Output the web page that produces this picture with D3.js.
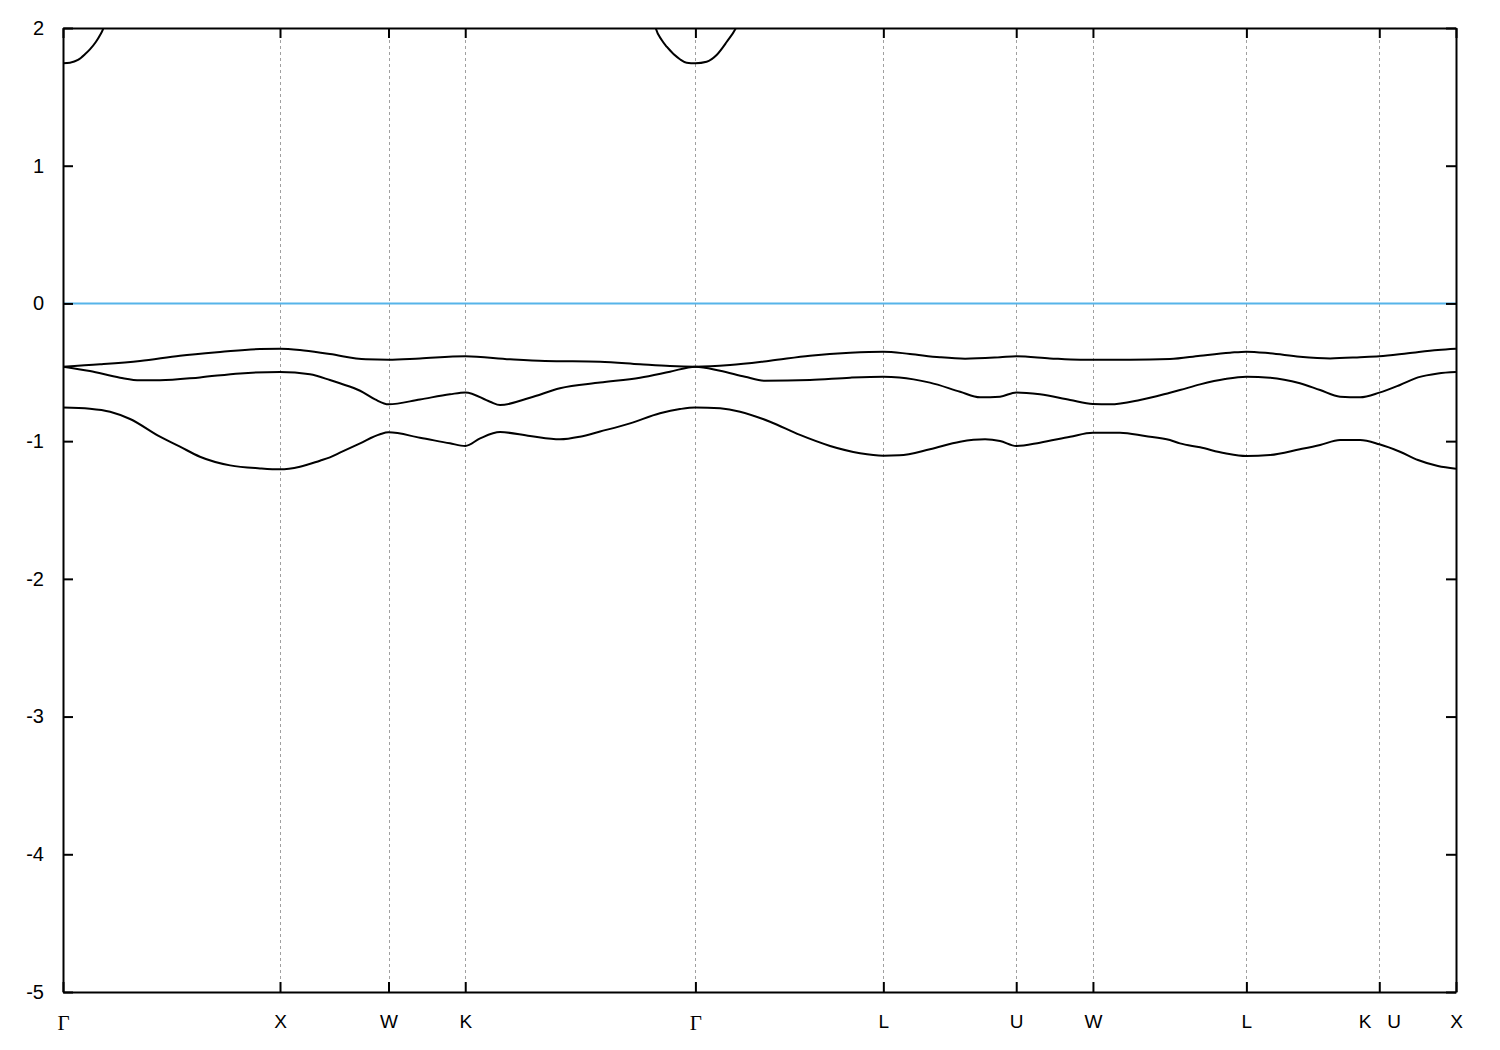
<!DOCTYPE html>
<html>
<head>
<meta charset="utf-8">
<script src="https://cdn.jsdelivr.net/npm/d3@7"></script>
<style>
  body { margin: 0; background: #fff; }
  svg { display: block; }
</style>
</head>
<body>
<svg id="chart" width="1500" height="1050"></svg>
<script>
// High-symmetry points along the k-path (FCC), cumulative distance in 2π/a
const kTicks = [0, 1.0, 1.5, 1.85355, 2.91421, 3.78024, 4.39261, 4.74616, 5.45327, 6.06564, 6.41919];
const kLabels = ["Γ", "X", "W", "K", "Γ", "L", "U", "W", "L", "K   U", "X"];
const yTicks = [-5, -4, -3, -2, -1, 0, 1, 2];
const fermiLevel = 0;

// Valence bands [k, E]
const band1 = [[0,-0.755],[0.124,-0.764],[0.217,-0.786],[0.309,-0.839],[0.447,-0.968],[0.539,-1.040],[0.631,-1.113],[0.770,-1.176],[0.908,-1.198],[1.0,-1.205],[1.092,-1.186],[1.184,-1.142],[1.230,-1.118],[1.276,-1.084],[1.369,-1.016],[1.461,-0.950],[1.5,-0.936],[1.645,-0.975],[1.783,-1.016],[1.854,-1.035],[1.922,-0.980],[2.014,-0.934],[2.152,-0.963],[2.290,-0.987],[2.382,-0.968],[2.475,-0.930],[2.613,-0.871],[2.751,-0.798],[2.843,-0.767],[2.914,-0.755],[3.028,-0.762],[3.120,-0.786],[3.258,-0.859],[3.396,-0.955],[3.535,-1.035],[3.673,-1.088],[3.780,-1.106],[3.854,-1.103],[3.995,-1.059],[4.134,-1.004],[4.249,-0.987],[4.318,-0.999],[4.393,-1.035],[4.502,-1.011],[4.641,-0.968],[4.746,-0.939],[4.871,-0.939],[4.986,-0.963],[5.101,-0.992],[5.147,-1.016],[5.240,-1.045],[5.355,-1.088],[5.453,-1.108],[5.562,-1.101],[5.700,-1.059],[5.793,-1.028],[5.885,-0.992],[5.977,-0.992],[6.066,-1.023],[6.161,-1.077],[6.244,-1.137],[6.336,-1.181],[6.419,-1.200]];
const band2 = [[0,-0.459],[0.124,-0.491],[0.263,-0.539],[0.355,-0.558],[0.447,-0.558],[0.631,-0.537],[0.816,-0.508],[1.0,-0.498],[1.138,-0.515],[1.230,-0.556],[1.276,-0.580],[1.369,-0.634],[1.438,-0.697],[1.5,-0.733],[1.645,-0.697],[1.783,-0.660],[1.854,-0.646],[1.968,-0.714],[2.014,-0.738],[2.152,-0.685],[2.290,-0.616],[2.475,-0.575],[2.659,-0.539],[2.797,-0.496],[2.914,-0.459],[3.028,-0.489],[3.143,-0.532],[3.235,-0.561],[3.442,-0.556],[3.627,-0.539],[3.780,-0.532],[3.854,-0.537],[3.995,-0.575],[4.134,-0.641],[4.226,-0.682],[4.318,-0.677],[4.393,-0.646],[4.502,-0.660],[4.641,-0.701],[4.746,-0.730],[4.825,-0.733],[4.963,-0.701],[5.101,-0.648],[5.147,-0.629],[5.240,-0.588],[5.355,-0.549],[5.453,-0.532],[5.562,-0.539],[5.700,-0.580],[5.793,-0.629],[5.885,-0.677],[5.977,-0.682],[6.066,-0.648],[6.161,-0.592],[6.244,-0.537],[6.336,-0.508],[6.419,-0.498]];
const band3 = [[0,-0.459],[0.171,-0.442],[0.355,-0.418],[0.539,-0.380],[0.724,-0.353],[0.908,-0.331],[1.0,-0.329],[1.092,-0.338],[1.230,-0.368],[1.396,-0.406],[1.5,-0.409],[1.645,-0.399],[1.854,-0.384],[2.060,-0.406],[2.221,-0.418],[2.475,-0.423],[2.659,-0.442],[2.797,-0.455],[2.914,-0.459],[3.074,-0.447],[3.258,-0.416],[3.442,-0.380],[3.627,-0.358],[3.780,-0.350],[3.903,-0.367],[4.041,-0.391],[4.157,-0.401],[4.318,-0.391],[4.393,-0.384],[4.548,-0.399],[4.687,-0.409],[4.917,-0.409],[5.101,-0.404],[5.240,-0.380],[5.378,-0.358],[5.453,-0.350],[5.562,-0.362],[5.700,-0.387],[5.839,-0.399],[5.977,-0.391],[6.066,-0.384],[6.198,-0.362],[6.336,-0.338],[6.419,-0.329]];
// Conduction band pieces (visible only near Γ)
const cband1 = [[0,1.744],[0.032,1.748],[0.069,1.768],[0.101,1.809],[0.124,1.845],[0.152,1.90],[0.171,1.949],[0.184,1.99],[0.195,2.05]];
const cband2 = [[2.72,2.07],[2.731,2.0],[2.759,1.913],[2.782,1.864],[2.843,1.773],[2.874,1.748],[2.914,1.744],[2.966,1.755],[3.012,1.804],[3.059,1.90],[3.101,2.0],[3.11,2.03]];

const bands = [band1, band2, band3, cband1, cband2];

const L = 63, R = 1456, T = 28, B = 992;
const svg = d3.select("#chart");

const x = d3.scaleLinear().domain([kTicks[0], kTicks[kTicks.length - 1]]).range([L, R]);
const y = d3.scaleLinear().domain([-5, 2]).range([B, T]);

svg.append("defs").append("clipPath").attr("id", "plotclip")
  .append("rect").attr("x", L).attr("y", T).attr("width", R - L).attr("height", B - T);

// dashed vertical lines at high-symmetry points
svg.append("g").selectAll("line").data(kTicks.slice(1, -1)).join("line")
  .attr("x1", d => Math.round(x(d)) + 0.5).attr("x2", d => Math.round(x(d)) + 0.5)
  .attr("y1", T).attr("y2", B)
  .attr("stroke", "#a0a0a0").attr("stroke-width", 1).attr("stroke-dasharray", "3,3");

// Fermi level
svg.append("line")
  .attr("x1", L).attr("x2", R).attr("y1", y(fermiLevel)).attr("y2", y(fermiLevel))
  .attr("stroke", "#56b4e9").attr("stroke-width", 2);

// bands
const line = d3.line().x(d => x(d[0])).y(d => y(d[1])).curve(d3.curveMonotoneX);
svg.append("g").attr("clip-path", "url(#plotclip)")
  .selectAll("path").data(bands).join("path")
  .attr("d", line).attr("fill", "none").attr("stroke", "#000").attr("stroke-width", 2)
  .attr("stroke-linejoin", "round");

// axes
const fontSans = "'Liberation Sans', Arial, sans-serif";
const xb = svg.append("g").attr("transform", `translate(0,${B})`)
  .call(d3.axisBottom(x).tickValues(kTicks).tickSize(-10).tickSizeOuter(0).tickPadding(23)
    .tickFormat((d, i) => kLabels[i]));
xb.selectAll("text").attr("font-family", (d, i) => kLabels[i] === "Γ" ? "'Liberation Serif', 'Times New Roman', serif" : fontSans)
  .attr("font-size", (d, i) => kLabels[i] === "Γ" ? 21 : 19).attr("fill", "#000").style("white-space", "pre");

svg.append("g").attr("transform", `translate(0,${T})`)
  .call(d3.axisTop(x).tickValues(kTicks).tickSize(-10).tickSizeOuter(0).tickFormat(""));

const yl = svg.append("g").attr("transform", `translate(${L},0)`)
  .call(d3.axisLeft(y).tickValues(yTicks).tickSize(-10).tickSizeOuter(0).tickPadding(19)
    .tickFormat(d => String(d)));
yl.selectAll("text").attr("font-family", fontSans).attr("font-size", 20).attr("fill", "#000");

svg.append("g").attr("transform", `translate(${R},0)`)
  .call(d3.axisRight(y).tickValues(yTicks).tickSize(-10).tickSizeOuter(0).tickFormat(""));

svg.selectAll(".domain").attr("stroke", "#000").attr("stroke-width", 2);
svg.selectAll(".tick line").attr("stroke", "#000").attr("stroke-width", 2);
</script>
</body>
</html>
